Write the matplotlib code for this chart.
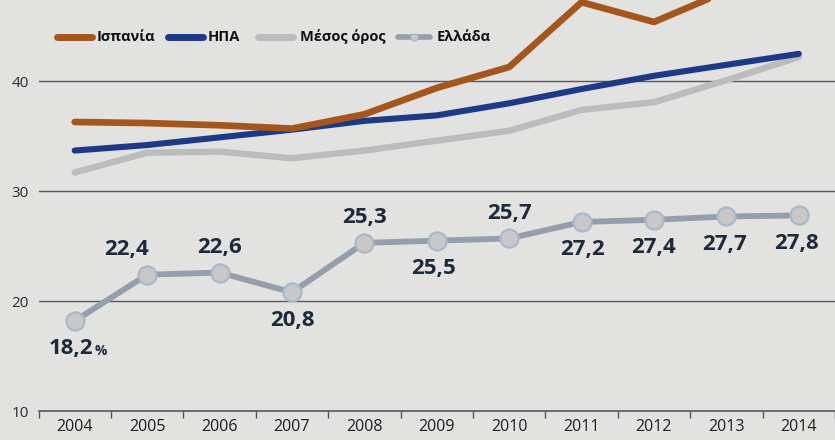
import numpy as np
import matplotlib
matplotlib.use("Agg")
import matplotlib.pyplot as plt
from matplotlib.lines import Line2D

plt.rcParams['font.family'] = ['Open Sans', 'DejaVu Sans']

# data
years = [2004, 2005, 2006, 2007, 2008, 2009, 2010, 2011, 2012, 2013, 2014]
spain = [36.3, 36.2, 36.0, 35.7, 37.0, 39.4, 41.3, 47.2, 45.4, 48.2, 49.5]
usa = [33.7, 34.2, 34.9, 35.6, 36.4, 36.9, 38.0, 39.3, 40.5, 41.5, 42.5]
average = [31.7, 33.5, 33.6, 33.0, 33.7, 34.6, 35.5, 37.4, 38.1, 40.1, 42.2]
greece = [18.2, 22.4, 22.6, 20.8, 25.3, 25.5, 25.7, 27.2, 27.4, 27.7, 27.8]
greece_above = [False, True, True, False, True, False, True, False, False, False, False]
series_names = ["Ισπανία", "ΗΠΑ", "Μέσος όρος", "Ελλάδα"]

bg = "#e2e2e0"
c_spain = "#a4561c"
c_usa = "#1d3a86"
c_avg = "#bcbcbc"
c_gr = "#949fab"
c_gr_fill = "#c8c8c8"
c_gr_edge = "#a9b9c9"
c_txt = "#1e2a3a"

fig = plt.figure(figsize=(8.35, 4.4), dpi=100, facecolor=bg)
ax = fig.add_axes([38.5 / 835, 29 / 440, 796.5 / 835, 411 / 440])
ax.set_facecolor(bg)

x = np.arange(len(years))
ax.set_xlim(-0.5, 10.4)
ax.set_ylim(10, 47.4)

for v in [20, 30, 40]:
    ax.axhline(v, color="#55575c", lw=1.0, zorder=1)
ax.axhline(10, color="#55575c", lw=1.2, zorder=1, clip_on=False)

ax.plot(x, average, color=c_avg, lw=4.6, solid_capstyle="round",
        solid_joinstyle="round", zorder=2)
ax.plot(x, usa, color=c_usa, lw=4.4, solid_capstyle="round",
        solid_joinstyle="round", zorder=3)
ax.plot(x, spain, color=c_spain, lw=4.8, solid_capstyle="round",
        solid_joinstyle="round", zorder=4)

ax.plot(x, greece, color=c_gr, lw=4.2, zorder=5, solid_joinstyle="round",
        marker="o", markersize=13, markerfacecolor=c_gr_fill,
        markeredgecolor=c_gr_edge, markeredgewidth=1.6)

# label nudges (points): the 2005 label sits left of its dot
dx_lab = [-3, -15, 0, 0, 0, -2, 0, 1, 0, -1, -2]
for i, v in enumerate(greece):
    txt = f"{v:.1f}".replace(".", ",")
    dy = 18 if greece_above[i] else -20
    ax.annotate(txt, (i, v), xytext=(dx_lab[i], dy), textcoords="offset points",
                ha="center", va="center", fontsize=16, fontweight="bold",
                color=c_txt, zorder=6)
    if i == 0:
        ax.annotate("%", (i, v), xytext=(dx_lab[i] + 17.5, dy - 1.5),
                    textcoords="offset points", ha="left", va="center",
                    fontsize=10, fontweight="bold", color=c_txt, zorder=6)

# axes styling
for s in ax.spines.values():
    s.set_visible(False)
ax.set_yticks([10, 20, 30, 40])
ax.set_yticklabels(["10", "20", "30", "40"], fontsize=11, color="#2a2a2a")
ax.tick_params(axis="y", length=0, pad=7)

ax.set_xticks(np.arange(len(years) + 1) - 0.5)
ax.set_xticklabels([])
ax.tick_params(axis="x", which="major", direction="out", length=5,
               width=1, color="#55575c")
ax.set_xticks(x, minor=True)
ax.set_xticklabels([str(y) for y in years], minor=True, fontsize=11.5,
                   color="#1e1e1e")
ax.tick_params(axis="x", which="minor", length=0, pad=6)

# legend, drawn by hand in pixel positions
swatch_x = [(57, 92), (168, 203), (258, 293), (398, 430)]
label_x = [97, 208, 300, 437]
leg_y = 1 - 37 / 440
swatches = [
    dict(color=c_spain, lw=5, solid_capstyle="round"),
    dict(color=c_usa, lw=5, solid_capstyle="round"),
    dict(color=c_avg, lw=5, solid_capstyle="round"),
    dict(color=c_gr, lw=4, solid_capstyle="round", marker="o", markersize=5,
         markevery=[1], markerfacecolor=c_gr_fill, markeredgecolor=c_gr_edge),
]
for (x0, x1), lx, name, st in zip(swatch_x, label_x, series_names, swatches):
    fig.add_artist(Line2D([x0 / 835, (x0 + x1) / 2 / 835, x1 / 835],
                          [leg_y] * 3, transform=fig.transFigure, **st))
    fig.text(lx / 835, leg_y, name, ha="left", va="center", fontsize=10.5,
             fontweight="bold", color="#111111")

fig.savefig("out.png", dpi=100, facecolor=bg)
